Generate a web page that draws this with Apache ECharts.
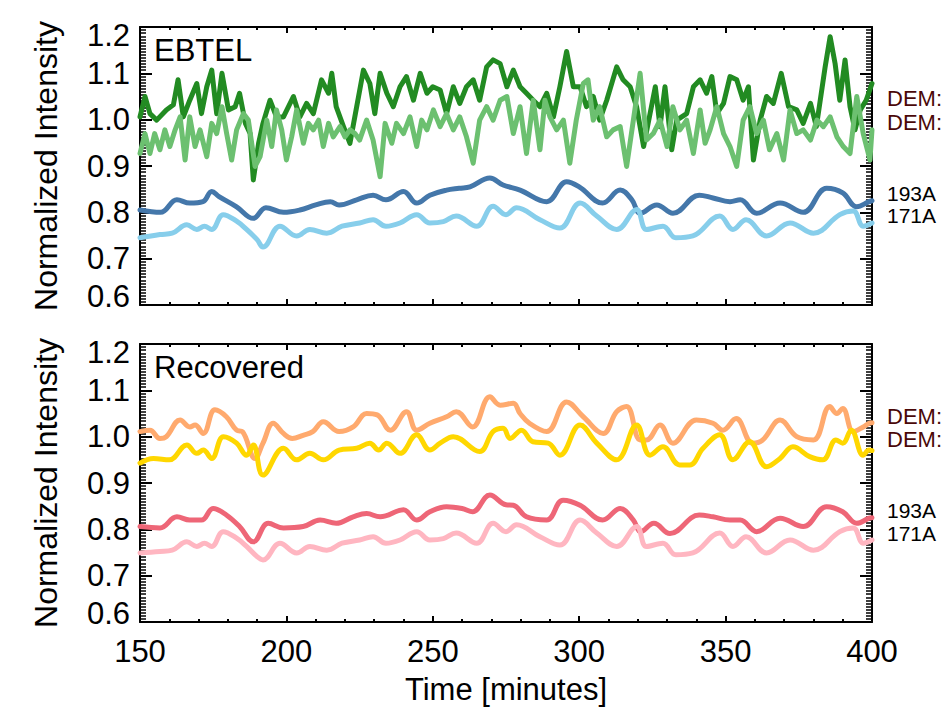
<!DOCTYPE html>
<html><head><meta charset="utf-8">
<script src="https://cdn.jsdelivr.net/npm/echarts@6/dist/echarts.min.js"></script>
<style>html,body{margin:0;padding:0;background:#fff}#c{width:950px;height:708px}</style>
</head><body><div id="c"></div>
<script>
// ---------- DATA ----------
const xTickLabels = [150, 200, 250, 300, 350, 400];
const yTickLabels = [0.6, 0.7, 0.8, 0.9, 1.0, 1.1, 1.2];
const panelTitles = ['EBTEL', 'Recovered'];
const rightLabels = ['DEM:', 'DEM:', '193A', '171A'];

// EBTEL DEM (dark green)
const ebtelDem1T = [150,151.7,153.4,155.7,159,161.4,163,164.8,167,169.4,171,172.8,174.5,176.2,178,180.2,182.5,184,186,187.6,188.7,190.5,192,194.4,196.6,199,202.4,204.6,206.9,209.2,212,214.4,215.5,217,219.5,221.7,224,226.3,228.5,230.2,232,234.3,236.5,238.8,241,243.4,245.7,248,250,252.5,254.7,257,259.2,261.5,263.8,266,268.4,270.6,273,275.3,277.5,279.8,282,284.3,286.6,288.9,291.2,293.4,295.7,298,300.3,302.5,304.8,307,309.4,312.8,315,317.4,319.6,322,324.2,326,327.6,329.3,331.6,333.3,336.7,339,341.3,343.5,345.3,347,349.3,351.5,353.8,356,357.8,359.5,361.8,364,366.3,369,371.5,374.3,376.5,379,381,384,385.7,387.4,389,390.8,392.5,394.2,396,398,400];
const ebtelDem1V = [1.006,1.05,1.013,0.999,1.021,1.032,1.086,1.006,1.042,1.078,1.013,1.071,1.107,1.013,1.1,1.021,1.028,1.057,0.992,0.97,0.87,0.949,0.992,1.042,1.006,1.006,1.05,1.006,1.035,1.013,1.086,1.057,1.1,1.028,0.985,0.949,1.028,1.107,1.078,1.013,1.1,1.057,1.028,1.071,1.093,1.042,1.1,1.057,1.071,1.064,1.013,1.071,1.035,1.071,1.086,1.042,1.114,1.129,1.121,1.071,1.107,1.071,1.057,1.042,1.028,1.057,1.006,1.071,1.147,1.071,1.071,1.028,1.05,0.999,1.042,1.114,1.086,1.071,1.028,0.942,1.013,1.071,0.985,1.071,0.935,0.999,1.013,1.071,1.086,1.057,1.093,1.013,1.035,1.093,1.086,1.042,1.071,0.913,0.999,1.05,1.035,1.1,1.028,1.021,0.992,1.035,0.985,1.114,1.179,1.121,1.042,1.129,1.028,0.978,1.021,1.042,1.078];
// EBTEL DEM (light green)
const ebtelDem2T = [150,151.7,153.4,155,156.8,158.5,160.2,162,163.7,165.4,167,168.8,170.5,172.8,174.5,176.2,178,179.6,181.3,183,185.3,187,189.3,191,193.3,195,196.6,198.4,200,201.8,203.5,205.8,207.5,209.2,211,212.6,214.4,216,218.3,220,221.7,223.4,225,227.4,229.6,232,233.7,236,237.6,240,242.2,244.5,246.2,248,250.2,252.5,254.7,257,259.2,261.5,263.8,266,268.4,270.6,273,275.3,277.5,279.8,282,284.3,286.6,288.3,290,292.3,294.6,296.8,299,301.4,303,304.8,307,309.4,311.6,314,316.2,318.5,320.8,323,325.3,327.6,330,332,334.4,336.7,339,341.3,343,344.7,347,349.3,351.5,353.8,356,358.3,360.6,362.9,365,367.5,369.8,372,374.3,376.5,379,381.2,383.4,385.7,388,390.2,392.5,394.8,397,399.3,400];
const ebtelDem2V = [0.927,0.97,0.927,0.97,0.935,0.978,0.942,0.978,1.006,0.913,1.006,0.942,0.978,0.92,0.992,0.97,1.028,0.97,0.913,0.978,1.013,0.999,0.899,0.92,0.999,0.942,1.021,0.978,0.913,0.963,1.021,0.949,0.992,0.978,0.999,0.942,0.992,0.963,0.985,0.963,0.978,0.97,0.956,0.999,0.956,0.877,0.992,0.949,0.992,0.97,1.006,0.942,0.999,0.978,1.021,0.985,1.013,0.978,1.006,0.963,0.906,0.999,1.028,0.999,1.042,1.05,0.97,1.028,0.927,1.042,0.935,1.042,1.006,0.978,0.999,0.906,0.999,1.078,1.086,0.999,1.028,0.963,0.978,0.985,0.899,0.999,1.1,0.956,0.97,0.999,0.942,1.028,0.978,0.999,0.927,1.021,0.949,0.978,1.028,0.97,0.942,0.899,0.999,1.028,0.97,0.999,0.935,0.97,0.913,1.021,0.97,0.978,0.956,0.999,0.985,1.006,0.963,0.942,0.927,1.05,0.97,0.913,0.978,0.985];
// EBTEL 193A
const ebtel193T = [150,157,162.6,167,171.5,174.5,177,183,188.7,193,199,204.6,210,215,218,224,229.6,234,240,244.5,249,254.7,259,262.7,269.5,274,279.8,288.9,295.7,300,308,314,318,320.8,326.5,332,341,345.7,351.5,355,360.6,368.6,376.5,384.5,390,394.8,399,400];
const ebtel193V = [0.805,0.800,0.827,0.820,0.823,0.845,0.834,0.812,0.787,0.810,0.800,0.805,0.816,0.823,0.816,0.827,0.837,0.827,0.845,0.820,0.837,0.848,0.852,0.855,0.874,0.859,0.848,0.823,0.866,0.855,0.820,0.848,0.827,0.798,0.816,0.798,0.837,0.831,0.823,0.827,0.798,0.820,0.800,0.852,0.842,0.812,0.823,0.825];
// EBTEL 171A
const ebtel171T = [150,156.8,161,166,169.4,172,174.5,178.4,183,186.4,190,192,197.8,203.5,208,213.8,219,225,229.6,234,238.8,244.5,249,253.6,258,265,270.6,275,278.6,286.6,293.4,300.3,306,312.8,319.6,323,328.6,333,338.8,348,352.5,357,364,372,380,389,393.6,397,400];
const ebtel171V = [0.745,0.752,0.755,0.773,0.763,0.770,0.763,0.795,0.781,0.763,0.741,0.725,0.770,0.749,0.763,0.755,0.770,0.777,0.784,0.770,0.777,0.795,0.777,0.780,0.792,0.770,0.813,0.795,0.810,0.784,0.766,0.820,0.792,0.763,0.806,0.763,0.770,0.745,0.749,0.792,0.763,0.784,0.749,0.777,0.755,0.795,0.803,0.770,0.777];

// Recovered DEM (orange)
const recDem1T = [150,153.4,156.8,159,163.7,167,168.8,171.6,175.6,179.5,183,185,189.3,192,195.5,199,202,205.7,209,212.6,218,222.8,227.4,231,235.5,241,244.5,249,254.7,258,263.6,269.5,273,277.5,279.8,283,288.9,295.7,301.4,308.2,312.8,316.2,320.8,323,327.6,332,340,345.7,349,353.6,359.2,362.7,368.6,374.3,380,385.6,388,390,393.6,397,399,400];
const recDem1V = [1.011,1.014,0.996,1.000,1.036,1.021,1.025,1.007,1.058,1.043,1.014,1.011,0.953,0.986,1.029,1.007,0.996,1.003,1.011,1.032,1.011,1.021,1.050,1.047,1.014,1.054,1.014,1.029,1.043,1.054,1.021,1.086,1.068,1.072,1.050,1.029,1.011,1.075,1.043,1.007,1.054,1.065,0.993,0.993,1.025,0.986,1.036,1.029,1.014,1.039,0.986,0.993,1.036,1.000,0.993,1.065,1.050,1.061,1.011,1.021,1.029,1.030];
// Recovered DEM (yellow)
const recDem2T = [150,154.6,160,166,169.4,171.6,174.5,178.5,183,186.4,188.7,192,199,203.5,208,212.6,218,224,228.5,231.5,234.3,238.8,244.5,249,252.5,257,266,270.6,274,276.4,280.3,284.2,289.4,293.4,300.3,306,312.8,319.6,324.2,328.6,334.3,337.8,342.3,348,352.5,358.2,364,368.6,373,378.7,383.2,387.7,390,392.9,397,399,400];
const recDem2V = [0.943,0.953,0.950,0.982,0.964,0.971,0.953,1.000,0.986,0.960,0.982,0.917,0.975,0.950,0.964,0.950,0.971,0.975,0.986,0.971,0.986,0.964,1.004,0.971,0.986,1.000,0.968,1.011,1.018,0.996,1.014,0.989,0.986,0.960,1.025,0.986,0.950,1.025,0.960,0.978,0.939,0.939,0.975,1.004,0.950,0.989,0.935,0.953,0.978,0.957,0.950,0.993,0.986,1.014,0.960,0.971,0.970];
// Recovered 193A
const rec193T = [150,156.8,162.6,167,171,175,179.5,184,188.7,193.8,199,205.7,211.5,217,222.8,227.4,232,240,244.5,249,254.7,260,263.6,269.5,275,277.5,282,288.9,294.5,300.3,308,314,318.5,321,325.5,331,341,345.7,351.5,355,360.6,368.6,376.5,384.5,390,394.8,399,400];
const rec193V = [0.806,0.803,0.827,0.820,0.820,0.845,0.831,0.806,0.773,0.813,0.803,0.806,0.820,0.813,0.827,0.834,0.827,0.842,0.820,0.838,0.849,0.845,0.838,0.874,0.853,0.852,0.827,0.820,0.863,0.852,0.820,0.845,0.820,0.795,0.813,0.791,0.831,0.827,0.820,0.820,0.795,0.824,0.806,0.849,0.838,0.813,0.824,0.825];
// Recovered 171A
const rec171T = [150,156.8,161,166,169.4,172,174.5,178.4,183,186.4,190,192,197.8,203.5,208,213.8,219,225,229.6,234,238.8,244.5,249,253.6,258,265,270.6,275,278.6,286.6,293.4,300.3,306,312.8,319.6,323,328.6,333,338.8,348,352.5,357,364,372,380,389,393.6,397,400];
const rec171V = [0.749,0.752,0.755,0.773,0.763,0.770,0.763,0.795,0.781,0.763,0.741,0.734,0.770,0.749,0.763,0.755,0.770,0.777,0.784,0.770,0.777,0.795,0.777,0.780,0.792,0.770,0.813,0.795,0.810,0.784,0.766,0.820,0.792,0.763,0.806,0.763,0.770,0.745,0.749,0.792,0.763,0.784,0.749,0.777,0.755,0.795,0.803,0.770,0.777];

// ---------- CHART ----------
const FONT = "'Liberation Sans', Arial, Helvetica, sans-serif";
const zip = (t, v) => t.map((x, i) => [x, v[i]]);
const chart = echarts.init(document.getElementById('c'), null, {renderer: 'svg'});

const GRIDS = [{left: 140, top: 27, width: 732, height: 278}, {left: 140, top: 344, width: 732, height: 278}];
const axisLine = {show: true, onZero: false, lineStyle: {color: '#000', width: 2}};

function xAx(g, pos, labels) {
  return {
    type: 'value', gridIndex: g, position: pos, min: xTickLabels[0], max: xTickLabels[xTickLabels.length - 1], interval: 50,
    axisLine: axisLine,
    axisTick: {show: true, inside: true, length: 6, lineStyle: {color: '#000', width: 2}},
    minorTick: {show: true, splitNumber: 5, length: 3, lineStyle: {color: '#000', width: 2}},
    splitLine: {show: false}, minorSplitLine: {show: false},
    axisLabel: labels ? {show: true, color: '#000', fontSize: 31, fontFamily: FONT, margin: 14} : {show: false},
    name: labels ? 'Time [minutes]' : '', nameLocation: 'middle', nameGap: 52,
    nameTextStyle: {color: '#000', fontSize: 31, fontFamily: FONT}
  };
}
function yAx(g, pos, labels) {
  return {
    type: 'value', gridIndex: g, position: pos, min: 0.6, max: 1.2, interval: 0.1,
    axisLine: axisLine,
    axisTick: {show: true, inside: true, length: 12, lineStyle: {color: '#000', width: 2}},
    minorTick: {show: true, splitNumber: 15, length: 6, lineStyle: {color: '#000', width: 1.5}},
    splitLine: {show: false}, minorSplitLine: {show: false},
    axisLabel: labels ? {
      show: true, color: '#000', fontSize: 31, fontFamily: FONT, margin: 10,
      formatter: v => {
        const s = v.toFixed(1);
        if (Math.abs(v - 1.2) < 1e-6) return '{t|' + s + '}';
        if (Math.abs(v - 0.6) < 1e-6) return '{b|' + s + '}';
        return s;
      },
      rich: {
        t: {fontSize: 31, fontFamily: FONT, color: '#000', padding: [16, 0, 0, 0]},
        b: {fontSize: 31, fontFamily: FONT, color: '#000', padding: [0, 0, 18, 0]}
      }
    } : {show: false},
    name: labels ? 'Normalized Intensity' : '', nameLocation: 'middle', nameGap: 78,
    nameTextStyle: {color: '#000', fontSize: 32, fontFamily: FONT}
  };
}

function line(name, xi, t, v, color, w, smooth) {
  return {name, type: 'line', xAxisIndex: xi, yAxisIndex: xi, data: zip(t, v), showSymbol: false, symbol: 'none',
    smooth: smooth, lineStyle: {color, width: w, join: 'round', cap: 'round'}, itemStyle: {color}, animation: false};
}

const txt = (x, y, s, size, color, extra) => ({type: 'text', left: x, top: y,
  style: Object.assign({text: s, fontSize: size, fontFamily: FONT, fill: color}, extra || {})});

chart.setOption({
  backgroundColor: '#fff',
  animation: false,
  grid: GRIDS,
  xAxis: [xAx(0, 'bottom', false), xAx(0, 'top', false), xAx(1, 'bottom', true), xAx(1, 'top', false)],
  yAxis: [yAx(0, 'left', true), yAx(0, 'right', false), yAx(1, 'left', true), yAx(1, 'right', false)],
  series: [
    line('EBTEL DEM 1', 0, ebtelDem1T, ebtelDem1V, '#228B22', 5, false),
    line('EBTEL DEM 2', 0, ebtelDem2T, ebtelDem2V, '#6CC070', 5, false),
    line('EBTEL 193A', 0, ebtel193T, ebtel193V, '#4477AA', 5, 0.4),
    line('EBTEL 171A', 0, ebtel171T, ebtel171V, '#87CEEB', 5, 0.4),
    line('Recovered DEM 1', 2, recDem1T, recDem1V, '#FFAA6E', 5, 0.4),
    line('Recovered DEM 2', 2, recDem2T, recDem2V, '#FFD700', 5, 0.4),
    line('Recovered 193A', 2, rec193T, rec193V, '#EE6677', 5, 0.4),
    line('Recovered 171A', 2, rec171T, rec171V, '#FFB6C1', 5, 0.4)
  ],
  graphic: [
    txt(154, 35, panelTitles[0], 31, '#000'),
    txt(154, 352, panelTitles[1], 31, '#000'),
    txt(887, 87, rightLabels[0], 22, '#4a0808'),
    txt(887, 111, rightLabels[1], 22, '#4a0808'),
    txt(887, 183, rightLabels[2], 21, '#000'),
    txt(887, 205, rightLabels[3], 21, '#000'),
    txt(887, 405, rightLabels[0], 22, '#4a0808'),
    txt(887, 428, rightLabels[1], 22, '#4a0808'),
    txt(887, 500, rightLabels[2], 21, '#000'),
    txt(887, 523, rightLabels[3], 21, '#000')
  ]
});
</script>
</body></html>
